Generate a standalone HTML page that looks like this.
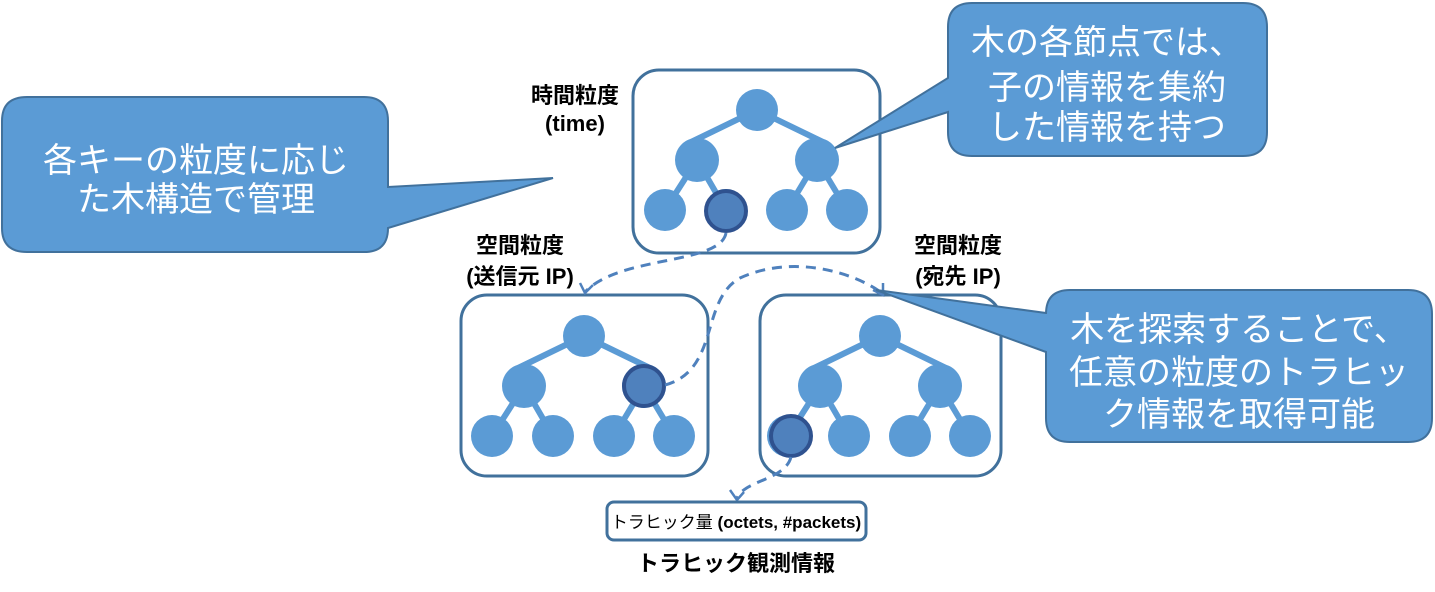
<!DOCTYPE html>
<html><head><meta charset="utf-8"><style>
html,body{margin:0;padding:0;background:#fff;}
svg{display:block;font-family:"Liberation Sans","Noto Sans CJK JP",sans-serif;}
.lbl{font-weight:bold;font-size:22px;fill:#000;text-anchor:middle;}
.cw{fill:#fff;font-size:34px;text-anchor:middle;}
</style></head><body>
<svg width="1435" height="592" viewBox="0 0 1435 592" xmlns="http://www.w3.org/2000/svg">
<defs>
<g id="tree">
 <g stroke="#5b9bd5" stroke-width="6">
  <line x1="0" y1="0" x2="-68" y2="33"/><line x1="0" y1="0" x2="68" y2="33"/>
  <line x1="-60" y1="50" x2="-92" y2="100"/><line x1="-60" y1="50" x2="-31" y2="100"/>
  <line x1="60" y1="50" x2="30" y2="100"/><line x1="60" y1="50" x2="90" y2="100"/>
 </g>
 <g fill="#5b9bd5">
  <circle cx="0" cy="0" r="21"/><circle cx="-60" cy="50" r="22"/><circle cx="60" cy="50" r="22"/>
  <circle cx="-92" cy="100" r="21"/><circle cx="-31" cy="100" r="21"/><circle cx="30" cy="100" r="21"/><circle cx="90" cy="100" r="21"/>
 </g>
</g>
</defs>

<rect x="633" y="70" width="247" height="183" rx="26" fill="#fff" stroke="#41719c" stroke-width="3"/>
<rect x="461" y="295" width="247" height="181" rx="26" fill="#fff" stroke="#41719c" stroke-width="3"/>
<rect x="760" y="295" width="241" height="181" rx="26" fill="#fff" stroke="#41719c" stroke-width="3"/>

<use href="#tree" x="757" y="110"/>
<use href="#tree" x="584" y="336"/>
<use href="#tree" x="880" y="336"/>

<circle cx="726" cy="211" r="20" fill="#4f81bd" stroke="#2f528f" stroke-width="4"/>
<circle cx="644" cy="386" r="20" fill="#4f81bd" stroke="#2f528f" stroke-width="4"/>
<circle cx="791" cy="436" r="20" fill="#4f81bd" stroke="#2f528f" stroke-width="4"/>

<g fill="none" stroke="#4f81bd" stroke-width="3" stroke-dasharray="10,7">
 <path d="M726,233 C720,265 620,255 585,292"/>
 <path d="M665,385 C720,370 700,300 740,278 C790,255 850,270 882,293"/>
 <path d="M791,457 C785,480 745,480 737,498"/>
</g>
<g fill="none" stroke="#4f81bd" stroke-width="2.5">
 <path d="M580,283 L585,293 L593,285"/>
 <path d="M873,290 L883,295 L883,283"/>
 <path d="M730,490 L737,500 L744,492"/>
</g>

<text class="lbl" x="575" y="103">時間粒度</text>
<text class="lbl" x="575" y="131">(time)</text>
<text class="lbl" x="520" y="253">空間粒度</text>
<text class="lbl" x="520" y="284">(送信元 IP)</text>
<text class="lbl" x="958" y="253">空間粒度</text>
<text class="lbl" x="958" y="284">(宛先 IP)</text>

<rect x="607" y="502" width="259" height="38" rx="7" fill="#fff" stroke="#41719c" stroke-width="3"/>
<text x="736" y="528" font-size="17" text-anchor="middle">トラヒック量 <tspan font-weight="bold">(octets, #packets)</tspan></text>
<text class="lbl" x="736" y="571">トラヒック観測情報</text>

<path d="M27,97 H364 Q388,97 388,121 V187 L553,178 L388,228 V228 Q388,252 364,252 H27 Q2,252 2,228 V121 Q2,97 27,97 Z" fill="#5b9bd5" stroke="#41719c" stroke-width="2"/>
<text class="cw" x="196" y="172">各キーの粒度に応じ</text>
<text class="cw" x="196" y="211">た木構造で管理</text>

<path d="M972,3 H1243 Q1267,3 1267,27 V132 Q1267,156 1243,156 H972 Q948,156 948,132 V112 L835,148 L948,78 V27 Q948,3 972,3 Z" fill="#5b9bd5" stroke="#41719c" stroke-width="2"/>
<text class="cw" x="1107" y="54">木の各節点では、</text>
<text class="cw" x="1107" y="99">子の情報を集約</text>
<text class="cw" x="1107" y="139">した情報を持つ</text>

<path d="M1070,290 H1408 Q1432,290 1432,314 V418 Q1432,442 1408,442 H1070 Q1046,442 1046,418 V352 L876,290 L1046,313 V314 Q1046,290 1070,290 Z" fill="#5b9bd5" stroke="#41719c" stroke-width="2"/>
<text class="cw" x="1239" y="341">木を探索することで、</text>
<text class="cw" x="1239" y="384">任意の粒度のトラヒッ</text>
<text class="cw" x="1239" y="426">ク情報を取得可能</text>
</svg>
</body></html>
